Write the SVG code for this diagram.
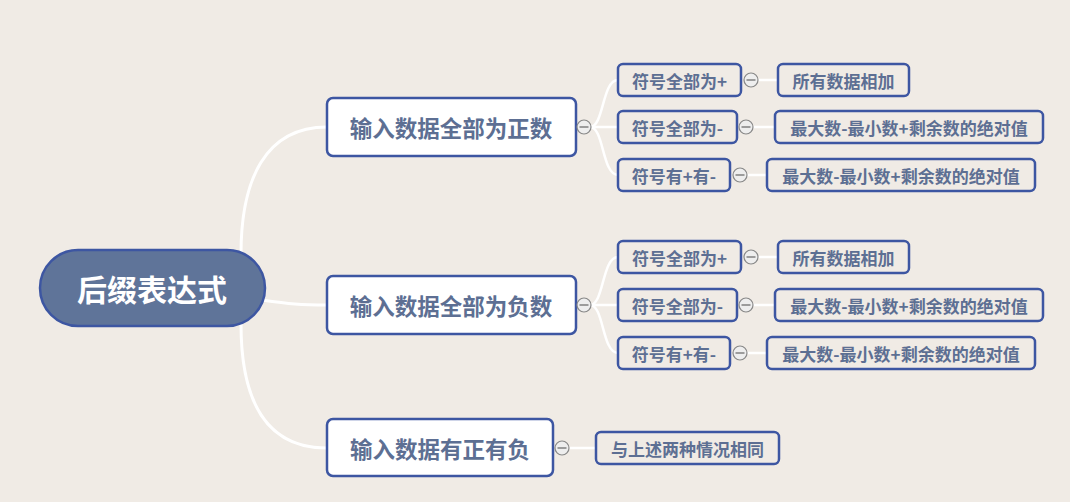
<svg xmlns="http://www.w3.org/2000/svg" width="1070" height="502" viewBox="0 0 1070 502">
<style>
.bg{fill:#F0EBE5}
.conn path,.conn line{fill:none;stroke:#FFFFFF;stroke-width:3;stroke-linecap:round}
.conn .thin{stroke-width:2.5}
.root rect{fill:#5F7499;stroke:#3D56A2;stroke-width:2.5}
.root text{fill:#FFFFFF;font-size:30px}
.l1 rect{fill:#FFFFFF;stroke:#3D56A2;stroke-width:2.5}
.l1 text{fill:#5D6F93;font-size:22.5px}
.l2 rect{fill:#F0EBE5;stroke:#3D56A2;stroke-width:2.5}
.l2 text{fill:#5D6F93;font-size:17px}
text{font-family:"Noto Sans CJK SC","Noto Sans",sans-serif;font-weight:bold;text-anchor:middle;dominant-baseline:central}
</style>
<defs>
<g id="minus"><circle cx="0" cy="0" r="7" fill="#EEEEEE" stroke="#888888" stroke-width="1.2"/><line x1="-4.5" y1="0" x2="4.5" y2="0" stroke="#666666" stroke-width="1.2"/></g>
</defs>
<rect class="bg" x="0" y="0" width="1070" height="502"/>

<g id="connectors" class="conn">
<path d="M241,254 C241,180 265,127 327,127"/>
<path d="M262,300 C290,304 300,305 327,305"/>
<path d="M241,324 C241,400 265,448 327,448"/>

<path class="thin" d="M590,127 C604,127 602,80 618,80"/>
<path class="thin" d="M591,127 L618,127"/>
<path class="thin" d="M590,127 C604,127 602,175 618,175"/>

<path class="thin" d="M590,305 C604,305 602,257 618,257"/>
<path class="thin" d="M591,305 L618,305"/>
<path class="thin" d="M590,305 C604,305 602,353 618,353"/>

<line class="thin" x1="569" y1="448" x2="596" y2="448"/>

<line class="thin" x1="758" y1="80" x2="778" y2="80"/>
<line class="thin" x1="753" y1="127" x2="775" y2="127"/>
<line class="thin" x1="747" y1="175" x2="767" y2="175"/>
<line class="thin" x1="758" y1="257" x2="778" y2="257"/>
<line class="thin" x1="753" y1="305" x2="775" y2="305"/>
<line class="thin" x1="747" y1="353" x2="767" y2="353"/>
</g>

<g id="root" class="root">
<rect x="40" y="250" width="225" height="76" rx="38" ry="38"/>
<text x="152" y="288">后缀表达式</text>
</g>

<g id="nodeA" class="l1"><rect x="327" y="98" width="249" height="58" rx="6"/><text x="451" y="127">输入数据全部为正数</text></g>
<g id="nodeB" class="l1"><rect x="327" y="276" width="249" height="58" rx="6"/><text x="451" y="305">输入数据全部为负数</text></g>
<g id="nodeC" class="l1"><rect x="327" y="419" width="226" height="57" rx="6"/><text x="440" y="448">输入数据有正有负</text></g>

<g id="a1" class="l2"><rect x="618" y="64" width="123" height="32" rx="5"/><text x="679.5" y="80">符号全部为+</text></g>
<g id="a2" class="l2"><rect x="618" y="111" width="119" height="32" rx="5"/><text x="677.5" y="127">符号全部为-</text></g>
<g id="a3" class="l2"><rect x="618" y="159" width="112" height="32" rx="5"/><text x="674" y="175">符号有+有-</text></g>
<g id="a1c" class="l2"><rect x="778" y="64" width="131" height="32" rx="5"/><text x="843.5" y="80">所有数据相加</text></g>
<g id="a2c" class="l2"><rect x="775" y="111" width="268" height="32" rx="5"/><text x="909" y="127">最大数-最小数+剩余数的绝对值</text></g>
<g id="a3c" class="l2"><rect x="767" y="159" width="268" height="32" rx="5"/><text x="901" y="175">最大数-最小数+剩余数的绝对值</text></g>

<g id="b1" class="l2"><rect x="618" y="241" width="123" height="32" rx="5"/><text x="679.5" y="257">符号全部为+</text></g>
<g id="b2" class="l2"><rect x="618" y="289" width="119" height="32" rx="5"/><text x="677.5" y="305">符号全部为-</text></g>
<g id="b3" class="l2"><rect x="618" y="337" width="112" height="32" rx="5"/><text x="674" y="353">符号有+有-</text></g>
<g id="b1c" class="l2"><rect x="778" y="241" width="131" height="32" rx="5"/><text x="843.5" y="257">所有数据相加</text></g>
<g id="b2c" class="l2"><rect x="775" y="289" width="268" height="32" rx="5"/><text x="909" y="305">最大数-最小数+剩余数的绝对值</text></g>
<g id="b3c" class="l2"><rect x="767" y="337" width="268" height="32" rx="5"/><text x="901" y="353">最大数-最小数+剩余数的绝对值</text></g>

<g id="c1" class="l2"><rect x="596" y="432" width="183" height="32" rx="5"/><text x="687.5" y="448">与上述两种情况相同</text></g>

<g id="collapse">
<use href="#minus" x="584" y="127"/>
<use href="#minus" x="584" y="305"/>
<use href="#minus" x="562" y="448"/>
<use href="#minus" x="751" y="80"/>
<use href="#minus" x="746" y="127"/>
<use href="#minus" x="740" y="175"/>
<use href="#minus" x="751" y="257"/>
<use href="#minus" x="746" y="305"/>
<use href="#minus" x="740" y="353"/>
</g>
</svg>
